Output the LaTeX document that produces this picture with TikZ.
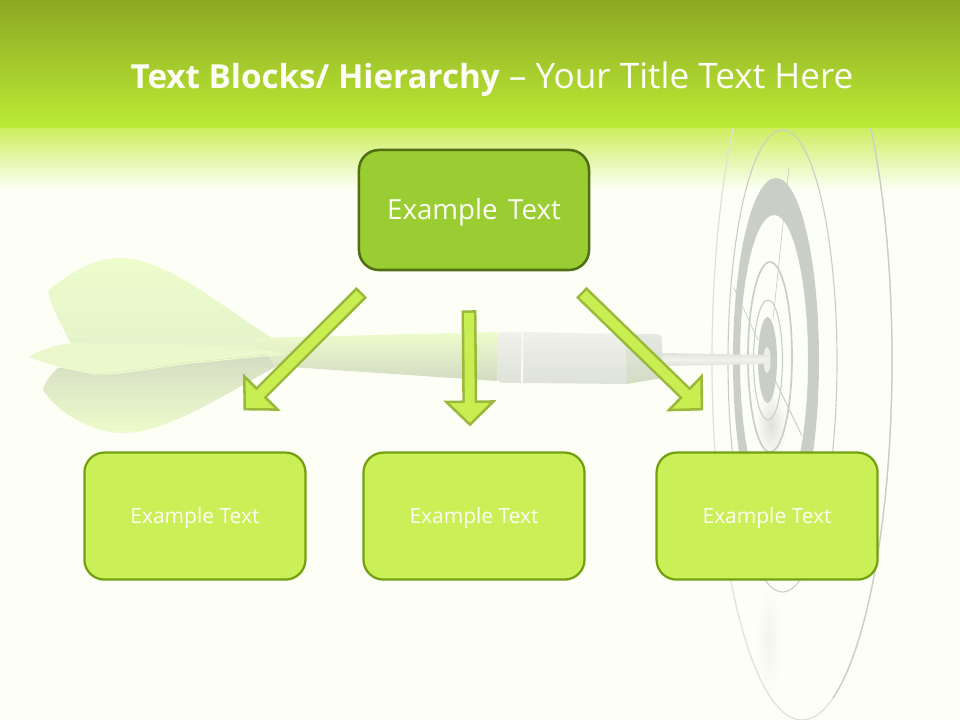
\documentclass[tikz,border=0pt]{standalone}
\usepackage{fontspec}
\setmainfont{Open Sans}
\usetikzlibrary{arrows.meta}
\definecolor{PAGE}{HTML}{FDFFF6}
\definecolor{HEAD1}{HTML}{8BA823}
\definecolor{HEAD2}{HTML}{BDEB35}
\definecolor{HEAD3}{HTML}{CDEE5F}
\definecolor{HEAD4}{HTML}{EAF6BC}
\definecolor{TOPF}{HTML}{9ACD32}
\definecolor{TOPD}{HTML}{4F6F12}
\definecolor{LEAFF}{HTML}{CBF057}
\definecolor{LEAFD}{HTML}{74A010}
\definecolor{ARF}{HTML}{C8EE52}
\definecolor{ARD}{HTML}{9AB93C}
\definecolor{RING}{HTML}{CACFC5}
\definecolor{RINGL}{HTML}{DFE2D9}
\definecolor{FIN1}{HTML}{EDFCCB}
\definecolor{FIN2}{HTML}{E5F3CB}
\definecolor{FIN3}{HTML}{D3DBC3}
\definecolor{STEEL}{HTML}{E6E8E2}
\tikzstyle{topbox} = [rectangle, rounded corners=0.5cm, minimum width=5.75cm, minimum height=3cm, text centered, draw=TOPD, line width=1.8pt, fill=TOPF, text=PAGE, font=\fontsize{19.7}{23}\selectfont, inner sep=0pt, text height=18pt, text depth=4.7pt]
\tikzstyle{leafbox} = [rectangle, rounded corners=0.5cm, minimum width=5.525cm, minimum height=3.175cm, text centered, draw=LEAFD, line width=1.6pt, fill=LEAFF, text=PAGE, font=\fontsize{14.9}{17}\selectfont, inner sep=0pt, text height=14pt, text depth=3.6pt]
\tikzstyle{blockarrow} = [draw=ARD, line width=10.6pt, -{Triangle[length=18.5pt,width=37.5pt,fill=ARF,line width=1.8pt]}, postaction={draw=ARF, line width=7pt, arrows=-, shorten <=1.8pt, shorten >=15pt}]
\begin{document}
\begin{tikzpicture}[x=0.025cm, y=-0.025cm, node distance=7cm]
\useasboundingbox (0,0) rectangle (960,720);
\fill [PAGE] (0,0) rectangle (960,720);
\shade [top color=HEAD3, middle color=HEAD4, bottom color=PAGE] (0,128) rectangle (960,190);

% dart
\fill [FIN1] (53,326) -- (72,342) -- (60,332) -- cycle;
\shade [top color=FIN1, bottom color=FIN2] (48,291) .. controls (70,272) and (95,258) .. (120,258) .. controls (165,258) and (220,305) .. (272,338) -- (285,352) -- (72,346) .. controls (62,325) and (52,310) .. (48,291) -- cycle;
\shade [top color=FIN3, bottom color=FIN1] (58,368) .. controls (50,375) and (45,382) .. (43,390) .. controls (55,410) and (90,433) .. (123,433) .. controls (170,433) and (230,390) .. (285,362) -- (285,352) -- (100,368) -- cycle;
\shade [top color=FIN1, middle color=FIN2, bottom color=FIN3] (255,338) -- (497,332) -- (497,381) -- (275,366) -- cycle;
\fill [FIN1!60!FIN2] (29,357) .. controls (40,350) and (55,345) .. (72,343) -- (200,345) .. controls (240,347) and (265,349) .. (285,353) -- (190,362) .. controls (150,367) and (120,374) .. (95,373) .. controls (75,372) and (50,365) .. (29,357) -- cycle;
\draw [FIN1, line width=0.8pt] (285,354) -- (190,363) .. controls (150,368) and (120,375) .. (95,374) -- (62,367);
\shade [top color=STEEL, middle color=STEEL, bottom color=FIN3] (600,334) -- (655,334) .. controls (660,334) and (662,336) .. (662,340) -- (662,378) -- (627,384) -- (600,384) -- cycle;
\shade [top color=PAGE!40!STEEL, middle color=STEEL, bottom color=RINGL] (523,332) -- (625,334) -- (627,384) -- (523,383) -- cycle;
\shade [top color=PAGE!40!STEEL, middle color=STEEL, bottom color=RINGL] (497,338) .. controls (497,334) and (499,332) .. (503,332) -- (522,332) -- (521,383) -- (503,383) .. controls (499,383) and (497,380) .. (497,376) -- cycle;

% target
\begin{scope}
\clip (0,128) rectangle (960,720);
\shade [inner color=RINGL, outer color=PAGE] (771,425) ellipse (16 and 34);
\shade [inner color=PAGE!65!RINGL, outer color=PAGE] (769,640) ellipse (13 and 58);
\draw [RINGL, line width=0.9pt] (802,360) ellipse (90 and 360);
\draw [RING, line width=0.9pt] (892,360) arc (0:-100:90 and 360);
\draw [RING, line width=0.9pt] (892,360) arc (0:70:90 and 360);
\draw [RING, line width=0.8pt] (782.5,361) ellipse (54.5 and 231);
\fill [RING, even odd rule] (776,360) ellipse (43 and 182) (774,360) ellipse (34 and 145);
\draw [RING, line width=1.2pt] (770,357) ellipse (22 and 95);
\draw [RING, line width=0.8pt] (768,360) ellipse (14.5 and 60);
\fill [RING] (767.5,360) ellipse (9.5 and 43);
\fill [PAGE!70!RING] (767,360) ellipse (3.5 and 13);
\draw [RING, line width=0.5pt] (789,167) -- (773,319);
\draw [RING, line width=0.5pt] (734,288) -- (758,340);
\draw [RING, line width=0.7pt] (775,380) -- (802,436);
\end{scope}
\shade [top color=RINGL, bottom color=RINGL, middle color=PAGE!60!RINGL] (662,353) -- (769,355) -- (769,364) -- (662,366) -- cycle;

% header
\shade [top color=HEAD1, bottom color=HEAD2] (0,0) rectangle (960,128);
\node (title) at (492,79) {\color{PAGE}{\fontsize{23.6}{29}\selectfont\textbf{Text Blocks/ Hierarchy}}\fontsize{25}{29}\selectfont{} -- Your Title Text Here};

% boxes
\node (topbox) [topbox] at (474,210) {Example\hspace{0.12em} Text};
\node (midbox) [leafbox, below of=topbox, yshift=-0.65cm] {Example Text};
\node (leftbox) [leafbox, left of=midbox, xshift=0.025cm] {Example Text};
\node (rightbox) [leafbox, right of=midbox, xshift=0.325cm] {Example Text};

\draw [blockarrow] ([shift={(4,21)}]topbox.south west) -- ([shift={(48.5,-41)}]leftbox.north);
\draw [blockarrow] ([shift={(-5,39)}]topbox.south) -- ([shift={(-4,-25)}]midbox.north);
\draw [blockarrow] ([shift={(-9,21)}]topbox.south east) -- ([shift={(-64,-41)}]rightbox.north);

\end{tikzpicture}
\end{document}
